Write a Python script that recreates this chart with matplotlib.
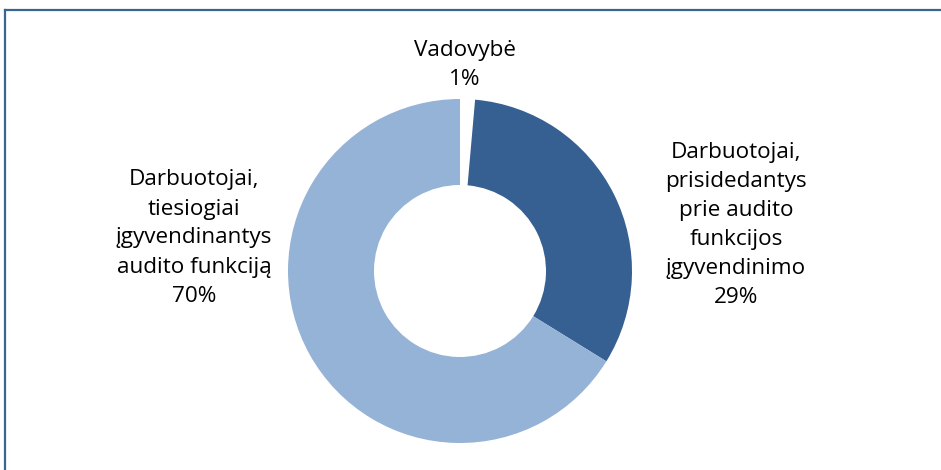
import matplotlib
matplotlib.use('Agg')
import matplotlib.pyplot as plt
from matplotlib.lines import Line2D

# Duomenys (dalys nuskaitytos nuo paveikslo)
categories = ['Vadovybė',
              'Darbuotojai,\nprisidedantys\nprie audito\nfunkcijos\nįgyvendinimo',
              'Darbuotojai,\ntiesiogiai\nįgyvendinantys\naudito funkciją']
shares = [1.4, 32.4, 66.2]
pct_labels = ['1%', '29%', '70%']
colors = ['#ffffff', '#376092', '#95b3d7']

plt.rcParams['font.family'] = ['Open Sans', 'DejaVu Sans']

W, H = 941, 470
fig = plt.figure(figsize=(W / 100, H / 100), dpi=100)
ax = fig.add_axes([0, 0, 1, 1])

cx, cy, r = 460, H - 271, 172
ax.pie(shares, colors=colors, startangle=90, counterclock=False,
       center=(cx, cy), radius=r,
       wedgeprops=dict(width=r * 0.5, linewidth=0))
ax.set_xlim(0, W)
ax.set_ylim(0, H)
ax.set_aspect('equal')
ax.axis('off')

# etiketės
label_pos = [(465, H - 65), (736, H - 225), (194, H - 238)]
for cat, pct, (x, y) in zip(categories, pct_labels, label_pos):
    ax.text(x, y, cat + '\n' + pct, ha='center', va='center',
            fontsize=16.2, linespacing=1.5, color='#000000')

# rėmelis (viršus ir kairė)
fig.add_artist(Line2D([5 / W, 1], [1 - 10 / H, 1 - 10 / H],
                      transform=fig.transFigure, color='#3a6593', lw=1.6))
fig.add_artist(Line2D([5 / W, 5 / W], [0, 1 - 10 / H],
                      transform=fig.transFigure, color='#3a6593', lw=1.6))

fig.savefig('out.png', dpi=100)
